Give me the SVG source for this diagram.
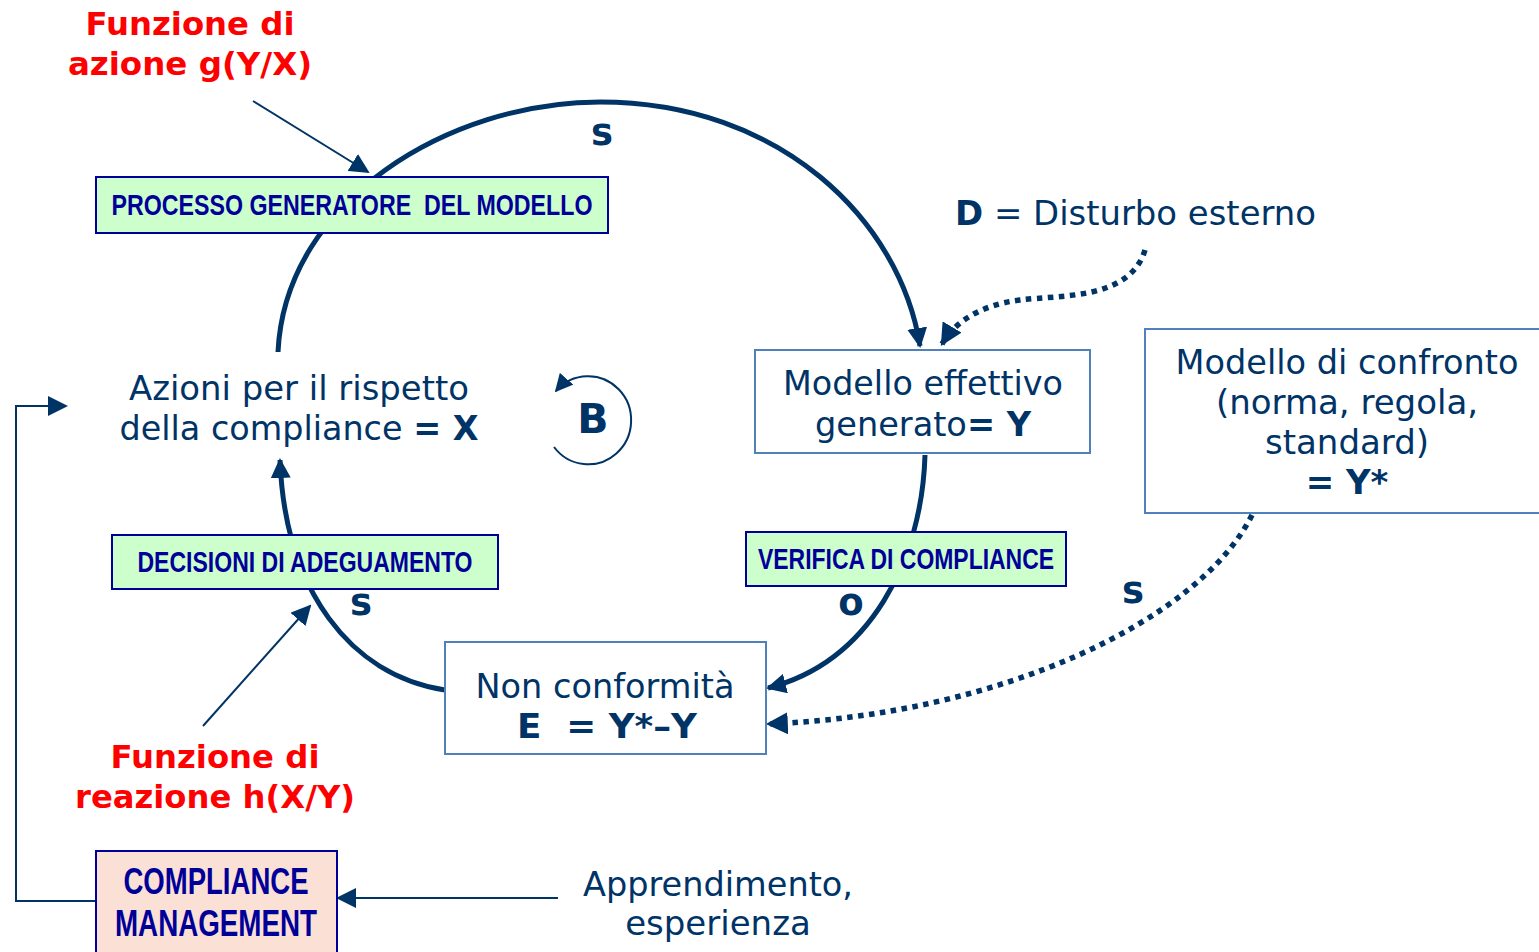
<svg xmlns="http://www.w3.org/2000/svg" width="1539" height="952" viewBox="0 0 1539 952">
<defs>
<style>
.t{font-family:"DejaVu Sans","Verdana",sans-serif;fill:#003366;font-size:34px;text-anchor:middle}
.b{font-weight:bold}
.big{font-size:41px}
.sg{font-size:37px;font-weight:bold}
.red{font-family:"DejaVu Sans","Verdana",sans-serif;fill:#ff0000;font-size:32.5px;font-weight:bold;text-anchor:middle}
.lab{font-family:"Liberation Sans Narrow","Liberation Sans",sans-serif;font-weight:bold;fill:#000099;text-anchor:middle}
.gbox{fill:#ccffcc;stroke:#000099;stroke-width:2}
.pbox{fill:#fbe1d5;stroke:#000099;stroke-width:2}
.wbox{fill:#ffffff;stroke:#4f81bd;stroke-width:2}
.thick{fill:none;stroke:#003366;stroke-width:5}
.dot{fill:none;stroke:#003366;stroke-width:5.5;stroke-dasharray:5.5 5.5}
.thin{fill:none;stroke:#003366;stroke-width:2}
</style>
<marker id="ab" viewBox="0 0 10 10" refX="9" refY="5" markerWidth="4" markerHeight="4" orient="auto" markerUnits="strokeWidth">
<path d="M0,0 L10,5 L0,10 z" fill="#003366"/>
</marker>
<marker id="as" viewBox="0 0 10 10" refX="9" refY="5" markerWidth="10" markerHeight="10" orient="auto" markerUnits="strokeWidth">
<path d="M0,0 L10,5 L0,10 z" fill="#003366"/>
</marker>
<marker id="am" viewBox="0 0 10 10" refX="9" refY="5" markerWidth="9" markerHeight="9" orient="auto" markerUnits="strokeWidth">
<path d="M0,0 L10,5 L0,10 z" fill="#003366"/>
</marker>
</defs>
<rect width="1539" height="952" fill="#ffffff"/>

<g id="connectors">
<path class="thick" d="M278 352 C285 200 450 102 600 102 C780 102 900 220 920 346" marker-end="url(#ab)"/>
<path class="thick" d="M925 455 C922 560 870 662 768 688" marker-end="url(#ab)"/>
<path class="thick" d="M445 690 C350 675 285 590 280 460" marker-end="url(#ab)"/>
<path class="dot" d="M1145 250 C1130 300 1060 295 1020 300 C980 305 955 322 942 344" marker-end="url(#ab)"/>
<path class="dot" d="M1252 515 C1200 620 1000 715 768 724" marker-end="url(#ab)"/>
<path class="thin" d="M253 101 L368 172" marker-end="url(#as)"/>
<path class="thin" d="M203 726 L310 606" marker-end="url(#as)"/>
<path class="thin" d="M558 898 L338 898" marker-end="url(#as)"/>
<path class="thin" d="M96 901 L16 901 L16 406 L66 406" marker-end="url(#as)"/>
<path class="thin" d="M554 447 A43 44 0 1 0 556 391" marker-end="url(#am)"/>
</g>

<g id="processo">
<rect class="gbox" x="96" y="177" width="512" height="56"/>
<text class="lab" x="352" y="215" font-size="30" textLength="481" lengthAdjust="spacingAndGlyphs" xml:space="preserve">PROCESSO GENERATORE  DEL MODELLO</text>
</g>
<g id="decisioni">
<rect class="gbox" x="112" y="535" width="386" height="54"/>
<text class="lab" x="305" y="572" font-size="30" textLength="335" lengthAdjust="spacingAndGlyphs">DECISIONI DI ADEGUAMENTO</text>
</g>
<g id="verifica">
<rect class="gbox" x="746" y="532" width="320" height="54"/>
<text class="lab" x="906" y="569" font-size="30" textLength="296" lengthAdjust="spacingAndGlyphs">VERIFICA DI COMPLIANCE</text>
</g>
<g id="compliance-management">
<rect class="pbox" x="96" y="851" width="241" height="110"/>
<text class="lab" x="216" y="894" font-size="36" textLength="185" lengthAdjust="spacingAndGlyphs">COMPLIANCE</text>
<text class="lab" x="216" y="936" font-size="36" textLength="202" lengthAdjust="spacingAndGlyphs">MANAGEMENT</text>
</g>
<g id="modello-effettivo">
<rect class="wbox" x="755" y="350" width="335" height="103"/>
<text class="t" x="923" y="395" textLength="280" lengthAdjust="spacingAndGlyphs">Modello effettivo</text>
<text class="t" x="923" y="436" textLength="216" lengthAdjust="spacingAndGlyphs">generato<tspan class="b">= Y</tspan></text>
</g>
<g id="modello-confronto">
<rect class="wbox" x="1145" y="329" width="400" height="184"/>
<text class="t" x="1347" y="374" textLength="343" lengthAdjust="spacingAndGlyphs">Modello di confronto</text>
<text class="t" x="1347" y="414">(norma, regola,</text>
<text class="t" x="1347" y="454">standard)</text>
<text class="t b" x="1347" y="494">= Y*</text>
</g>
<g id="non-conformita">
<rect class="wbox" x="445" y="642" width="321" height="112"/>
<text class="t" x="605" y="698" textLength="259" lengthAdjust="spacingAndGlyphs">Non conformità</text>
<text class="t b" x="607" y="738" xml:space="preserve" textLength="180" lengthAdjust="spacingAndGlyphs">E  = Y*–Y</text>
</g>
<g id="azioni">
<text class="t" x="299" y="400" textLength="340" lengthAdjust="spacingAndGlyphs">Azioni per il rispetto</text>
<text class="t" x="299" y="440" textLength="359" lengthAdjust="spacingAndGlyphs">della compliance <tspan class="b">= X</tspan></text>
</g>
<g id="loop-b">
<text class="t b big" x="593" y="433">B</text>
</g>
<g id="disturbo">
<text class="t" x="955" y="225" style="text-anchor:start" textLength="361" lengthAdjust="spacingAndGlyphs"><tspan class="b">D</tspan> = Disturbo esterno</text>
</g>
<g id="apprendimento">
<text class="t" x="718" y="896" textLength="270" lengthAdjust="spacingAndGlyphs">Apprendimento,</text>
<text class="t" x="718" y="935">esperienza</text>
</g>
<g id="funzione-azione">
<text class="red" x="190" y="35" textLength="209" lengthAdjust="spacingAndGlyphs">Funzione di</text>
<text class="red" x="190" y="75">azione g(Y/X)</text>
</g>
<g id="funzione-reazione">
<text class="red" x="215" y="768" textLength="209" lengthAdjust="spacingAndGlyphs">Funzione di</text>
<text class="red" x="215" y="808" textLength="280" lengthAdjust="spacingAndGlyphs">reazione h(X/Y)</text>
</g>
<g id="signs">
<text class="t sg" x="602" y="145">s</text>
<text class="t sg" x="361" y="615">s</text>
<text class="t sg" x="851" y="615">o</text>
<text class="t sg" x="1133" y="603">s</text>
</g>
</svg>
